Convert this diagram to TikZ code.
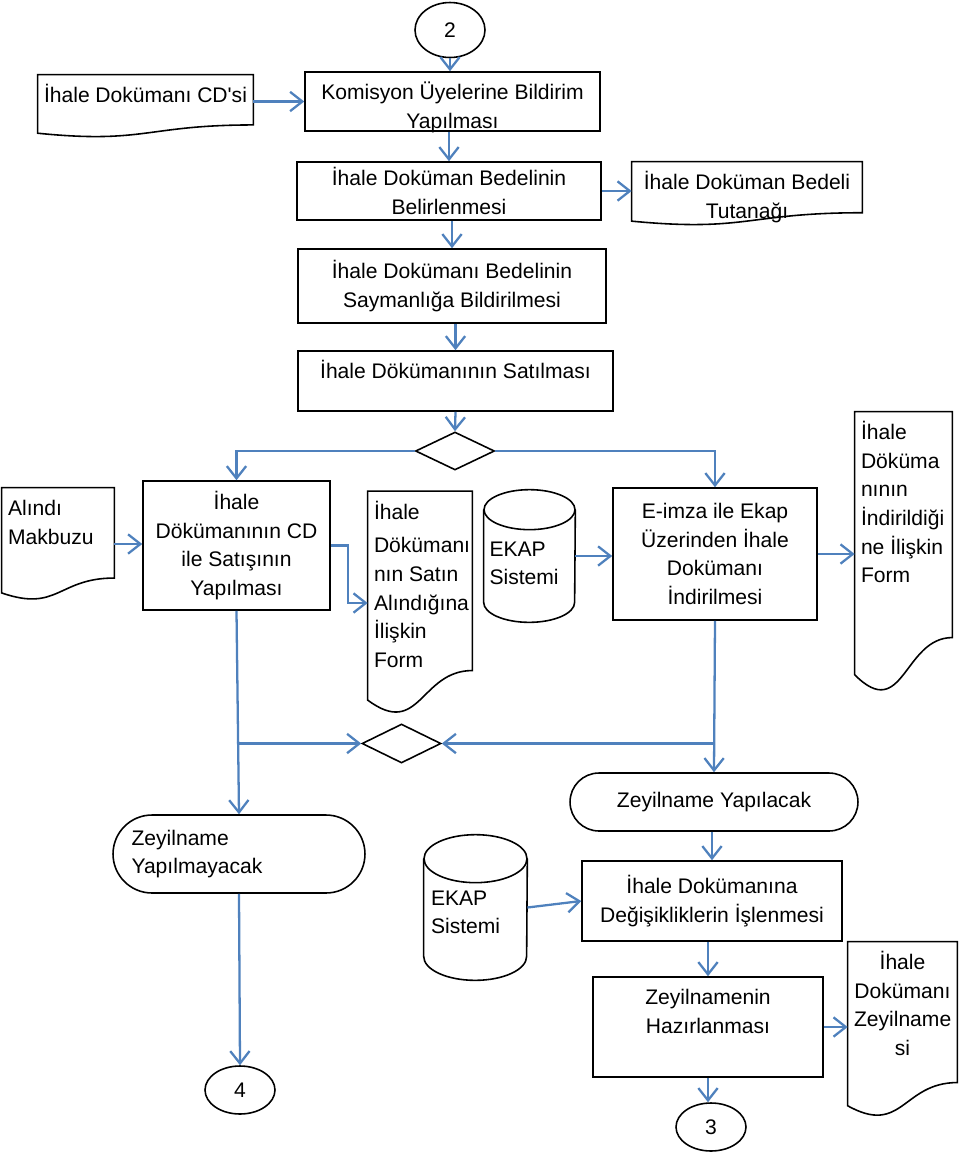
\documentclass[tikz,border=0pt]{standalone}
\usepackage{fontspec}
\setmainfont{Liberation Sans}
\usetikzlibrary{shapes.geometric,arrows.meta,calc}
\definecolor{flowblue}{RGB}{79,129,189}

\tikzset{
  shapeline/.style={line width=0.9pt},
  proc/.style={draw, shapeline, rectangle, align=center, inner sep=1pt},
  topproc/.style={draw, shapeline, rectangle, inner xsep=0pt, inner ysep=0.15cm},
  docbox/.style={rectangle, inner xsep=0.12cm, inner ysep=0.15cm},
  dbnode/.style={rectangle, inner sep=0pt},
  term/.style={draw, shapeline, rectangle},
  conn/.style={draw, shapeline, ellipse, inner sep=0pt},
  dec/.style={draw, shapeline, diamond, inner sep=0pt},
  flow/.style={flowblue, line width=1.3pt, -{Straight Barb[length=7pt,width=11pt]}},
}

% document symbol: wavy bottom edge
\newcommand{\docoutline}[1]{%
  \draw[shapeline] (#1.north west) -- (#1.north east)
    -- ($(#1.north east)!0.802!(#1.south east)$)
    .. controls ($(#1.north)!0.802!(#1.south)$) and ($(#1.north)!1.108!(#1.south)$)
    .. ($(#1.north west)!0.934!(#1.south west)$) -- cycle;}
% database symbol: name, x radius, y radius
\newcommand{\dboutline}[3]{%
  \draw[shapeline] ([yshift=-#3]#1.north) ellipse [x radius=#2, y radius=#3];
  \draw[shapeline] ([yshift=-#3]#1.north west) -- ([yshift=#3]#1.south west)
    arc [start angle=180, end angle=360, x radius=#2, y radius=#3]
    -- ([yshift=-#3]#1.north east);}

\begin{document}
\begin{tikzpicture}[x=0.02cm, y=-0.02cm, font=\fontsize{12}{16.3}\selectfont]
\useasboundingbox (0,0) rectangle (960,1154);

% upper chain
\node[conn, minimum width=1.4cm, minimum height=1.1cm] (c2) at (450,30) {2};
\node[topproc, minimum width=5.9cm] (komisyon) at (452.5,101.5)
    {\parbox[c][0.88cm][t]{5.9cm}{\centering\strut Komisyon Üyelerine Bildirim\\Yapılması}};
\node[docbox] (cdsi) at (145.5,106)
    {\parbox[c][0.94cm][t]{4.06cm}{\raggedright\strut İhale Dokümanı CD\textquotesingle si}};
\docoutline{cdsi}

\node[proc, minimum width=6.08cm, minimum height=1.16cm] (bedel) at (449,191)
    {İhale Doküman Bedelinin\\Belirlenmesi};
\node[docbox] (tutanak) at (747,193.5)
    {\parbox[c][0.96cm][t]{4.36cm}{\centering\strut İhale Doküman Bedeli\\Tutanağı}};
\docoutline{tutanak}

\node[proc, minimum width=6.16cm, minimum height=1.48cm] (sayman) at (452,286)
    {İhale Dokümanı Bedelinin\\Saymanlığa Bildirilmesi};
\node[topproc, minimum width=6.3cm] (satis) at (455.5,381)
    {\parbox[c][0.9cm][t]{6.3cm}{\centering\strut İhale Dökümanının Satılması}};
\node[dec, minimum width=1.58cm, minimum height=0.76cm] (d1) at (455,451) {};

\draw[flow] (c2.south) -- (c2.south |- komisyon.north);
\draw[flow] (cdsi.east |- komisyon.west) -- (komisyon.west);
\draw[flow] (bedel.north |- komisyon.south) -- (bedel.north);
\draw[flow] (bedel.east) -- (bedel.east -| tutanak.west);
\draw[flow] (sayman.north |- bedel.south) -- (sayman.north);
\draw[flow] (satis.north |- sayman.south) -- (satis.north);
\draw[flow] (satis.south) -- (d1.north);

% sale branches
\node[docbox] (alindi) at (58,544)
    {\parbox[c][1.94cm][t]{2.0cm}{\raggedright\strut Alındı\\Makbuzu}};
\docoutline{alindi}
\node[proc, minimum width=3.74cm, minimum height=2.58cm] (cdsatis) at (236.5,545.5)
    {İhale\\Dökümanının CD\\ile Satışının\\Yapılması};
\node[docbox] (form1) at (420,603)
    {\parbox[c][4.16cm][t]{1.84cm}{\raggedright\strut İhale\\[3pt]Dökümanı\\nın Satın\\Alındığına\\İlişkin\\Form}};
\docoutline{form1}
\node[dbnode, minimum width=1.82cm] (ekap1) at (529.5,556)
    {\parbox[c][2.64cm][c]{1.6cm}{\vspace{0.3cm}EKAP\\Sistemi}};
\dboutline{ekap1}{0.91cm}{0.4cm}
\node[proc, minimum width=4.08cm, minimum height=2.64cm] (eimza) at (715,554)
    {E-imza ile Ekap\\Üzerinden İhale\\Dokümanı\\İndirilmesi};
\node[docbox] (form2) at (903.5,552.5)
    {\parbox[c][5.32cm][t]{1.7cm}{\raggedright\strut İhale\\Döküma\\nının\\İndirildiği\\ne İlişkin\\Form}};
\docoutline{form2}

\draw[flow] (d1.west) -| (cdsatis.north);
\draw[flow] (d1.east) -| (eimza.north);
\draw[flow] (alindi.east) -- (alindi.east -| cdsatis.west);
\draw[flow] (cdsatis.east) -- ++(0.34cm,0) |- (form1.west);
\draw[flow] (ekap1.east) -- (ekap1.east -| eimza.west);
\draw[flow] (eimza.east) -- (eimza.east -| form2.west);

% merge and addendum
\node[dec, minimum width=1.58cm, minimum height=0.78cm] (d2) at (401.5,743.5) {};
\node[term, rounded corners=0.58cm, minimum width=5.76cm, minimum height=1.16cm] (yapilacak)
    at (714,802) {Zeyilname Yapılacak};
\node[term, rounded corners=0.78cm, minimum width=5.04cm, minimum height=1.56cm,
    text width=4.3cm, align=left] (yapilmayacak) at (239,854) {Zeyilname\\Yapılmayacak};
\node[conn, minimum width=1.4cm, minimum height=0.96cm] (c4) at (240,1090) {4};

\draw[flow] (cdsatis.south) -- (yapilmayacak.north);
\draw[flow] (cdsatis.south |- d2.west) -- (d2.west);
\draw[flow] (eimza.south) -- (yapilacak.north);
\draw[flow] (eimza.south |- d2.east) -- (d2.east);
\draw[flow] (yapilmayacak.south) -- (c4.north);

\node[dbnode, minimum width=2.06cm] (ekap2) at (475.5,907.5)
    {\parbox[c][2.9cm][c]{1.78cm}{\vspace{0.2cm}EKAP\\Sistemi}};
\dboutline{ekap2}{1.03cm}{0.48cm}
\node[proc, minimum width=5.2cm, minimum height=1.6cm] (degisim) at (712,901)
    {İhale Dokümanına\\Değişikliklerin İşlenmesi};
\node[topproc, minimum width=4.6cm] (hazirlanma) at (708,1027)
    {\parbox[c][1.7cm][t]{4.6cm}{\centering\strut Zeyilnamenin\\Hazırlanması}};
\node[docbox] (zdoc) at (902.5,1029.5)
    {\parbox[c][3.2cm][t]{1.94cm}{\centering\strut İhale\\Dokümanı\\Zeyilname\\si}};
\docoutline{zdoc}
\node[conn, minimum width=1.4cm, minimum height=0.96cm] (c3) at (711,1127) {3};

\draw[flow] (degisim.north |- yapilacak.south) -- (degisim.north);
\draw[flow] (ekap2.east) -- (degisim.west);
\draw[flow] (hazirlanma.north |- degisim.south) -- (hazirlanma.north);
\draw[flow] (hazirlanma.east) -- (hazirlanma.east -| zdoc.west);
\draw[flow] (hazirlanma.south) -- (hazirlanma.south |- c3.north);
\end{tikzpicture}
\end{document}
